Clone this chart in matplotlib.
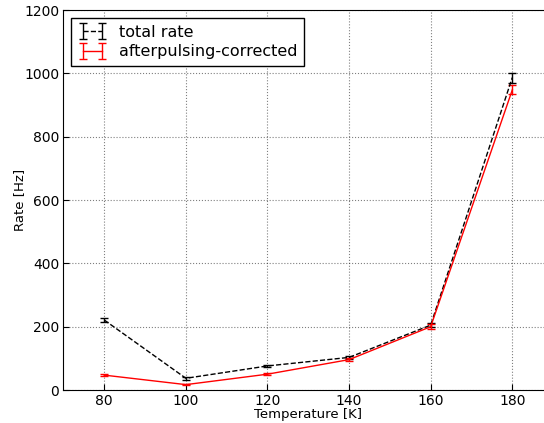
import matplotlib
matplotlib.use("Agg")
import matplotlib.pyplot as plt
import numpy as np

# data
temperature = [80, 100, 120, 140, 160, 180]
total_rate = [221, 37, 76, 103, 205, 987]
total_err = [7, 4, 4, 6, 7, 16]
corrected_rate = [47, 17, 50, 96, 200, 948]
corrected_err = [3, 2, 3, 4, 7, 14]

fig = plt.figure(figsize=(5.44, 4.23), dpi=100)
ax = fig.add_axes([0.1167, 0.078, 0.9, 0.898])

ax.errorbar(temperature, total_rate, yerr=total_err, fmt='k--', capsize=3,
            linewidth=1, elinewidth=1, label='total rate')
ax.errorbar(temperature, corrected_rate, yerr=corrected_err, fmt='r-', capsize=3,
            linewidth=1, elinewidth=1, label='afterpulsing-corrected')

ax.set_xlim(70, 190)
ax.set_ylim(0, 1200)
ax.set_xticks([80, 100, 120, 140, 160, 180])
ax.set_yticks([0, 200, 400, 600, 800, 1000, 1200])
ax.grid(True, color='k', linestyle=':', linewidth=0.8, alpha=0.5)
ax.tick_params(direction='in', labelsize=10, length=4, pad=3)
ax.set_xlabel('Temperature [K]', fontsize=9.5, labelpad=0)
ax.set_ylabel('Rate [Hz]', fontsize=9.5, labelpad=-1)

leg = ax.legend(loc='upper left', numpoints=2, fontsize=11.5, fancybox=False,
                handlelength=1.8, handletextpad=0.8, labelspacing=0.3,
                borderaxespad=0.5)
leg.get_frame().set_edgecolor('k')
leg.get_frame().set_alpha(1)

fig.savefig('out.png', dpi=100)
